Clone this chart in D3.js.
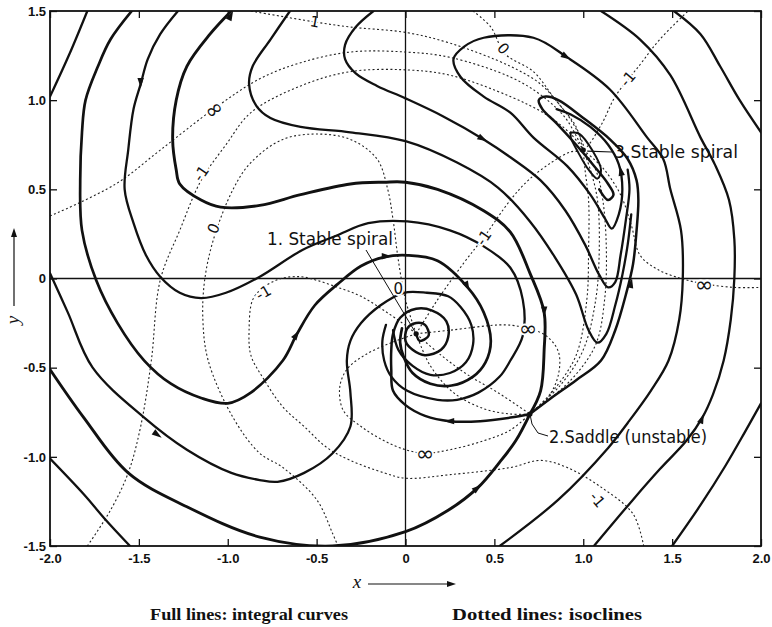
<!DOCTYPE html>
<html>
<head>
<meta charset="utf-8">
<script src="https://cdn.jsdelivr.net/npm/d3@7"></script>
<style>
  body { margin: 0; background: #fff; }
  text { fill: #111; }
</style>
</head>
<body>
<svg id="chart" width="772" height="627"></svg>
<script>
// ---- ticks ----
const xTickValues = [-2, -1.5, -1, -0.5, 0, 0.5, 1, 1.5, 2];
const xTickLabels = ['-2.0', '-1.5', '-1.0', '-0.5', '0', '0.5', '1.0', '1.5', '2.0'];
const yTickValues = [-1.5, -1, -0.5, 0, 0.5, 1, 1.5];
const yTickLabels = ['-1.5', '-1.0', '-0.5', '0', '0.5', '1.0', '1.5'];

// ---- singular points: stable spiral, saddle, stable spiral ----
const singularPoints = [[0.06, -0.31], [0.70, -0.76], [1.00, 0.72]];

// ---- integral curves (x, y) ----
const curveC1 = [[-2.00, 1.02], [-1.89, 1.26], [-1.79, 1.50]];
const curveC2 = [[-1.54, 1.50], [-1.66, 1.34], [-1.73, 1.19], [-1.80, 1.00], [-1.82, 0.82], [-1.83, 0.55], [-1.82, 0.27], [-1.74, -0.01], [-1.62, -0.25], [-1.47, -0.46], [-1.32, -0.59], [-1.15, -0.67], [-1.00, -0.70], [-0.87, -0.64], [-0.69, -0.46], [-0.61, -0.31], [-0.51, -0.15], [-0.38, -0.03], [-0.25, 0.07], [-0.12, 0.12], [0.01, 0.13], [0.18, 0.10], [0.35, -0.05], [0.44, -0.19], [0.48, -0.35], [0.45, -0.47], [0.38, -0.55], [0.26, -0.60], [0.14, -0.59], [0.04, -0.53], [-0.01, -0.44], [-0.03, -0.36], [-0.02, -0.28]];
const curveC3 = [[-1.28, 1.50], [-1.38, 1.37], [-1.45, 1.23], [-1.49, 1.09], [-1.53, 0.95], [-1.56, 0.72], [-1.58, 0.50], [-1.53, 0.31], [-1.46, 0.13], [-1.38, 0.01], [-1.27, -0.08], [-1.15, -0.11], [-1.01, -0.08], [-0.82, 0.01], [-0.58, 0.16], [-0.39, 0.24], [-0.21, 0.31], [0.01, 0.32], [0.25, 0.27], [0.44, 0.18], [0.59, 0.06], [0.66, -0.12], [0.66, -0.32], [0.59, -0.46], [0.53, -0.55], [0.41, -0.64], [0.29, -0.68], [0.18, -0.68], [0.01, -0.63], [-0.08, -0.55], [-0.12, -0.46], [-0.13, -0.35], [-0.11, -0.26]];
const curveLeft = [[-2.00, 0.03], [-1.90, -0.19], [-1.76, -0.50], [-1.47, -0.78], [-1.23, -0.96], [-0.98, -1.09], [-0.82, -1.13], [-0.72, -1.14], [-0.57, -1.09], [-0.41, -0.98], [-0.31, -0.83], [-0.31, -0.64], [-0.33, -0.46], [-0.31, -0.35], [-0.25, -0.25], [-0.14, -0.15], [-0.01, -0.08], [0.12, -0.08], [0.24, -0.10], [0.31, -0.16], [0.37, -0.26], [0.38, -0.37], [0.34, -0.47], [0.25, -0.53], [0.14, -0.54], [0.04, -0.49], [-0.04, -0.40], [-0.07, -0.29]];
const curveBottomLeft = [[-2.00, -1.01], [-1.81, -1.21], [-1.69, -1.35], [-1.55, -1.50]];
const sepTop = [[-0.98, 1.50], [-1.10, 1.37], [-1.23, 1.19], [-1.29, 1.00], [-1.31, 0.78], [-1.29, 0.61], [-1.27, 0.53], [-1.15, 0.44], [-1.04, 0.40], [-0.82, 0.41], [-0.59, 0.47], [-0.31, 0.53], [-0.12, 0.54], [0.00, 0.54], [0.18, 0.50], [0.44, 0.38], [0.59, 0.26], [0.70, 0.03], [0.78, -0.19], [0.78, -0.40], [0.76, -0.63], [0.70, -0.76]];
const sepBottom = [[-2.00, -0.51], [-1.81, -0.78], [-1.56, -1.09], [-1.23, -1.28], [-0.82, -1.45], [-0.41, -1.50], [0.00, -1.42], [0.24, -1.30], [0.41, -1.17], [0.53, -1.03], [0.62, -0.91], [0.70, -0.76]];
const sepToP1 = [[0.70, -0.76], [0.59, -0.78], [0.42, -0.80], [0.25, -0.80], [0.11, -0.77], [0.00, -0.71], [-0.07, -0.63], [-0.08, -0.51], [-0.08, -0.40], [-0.07, -0.31], [-0.03, -0.22], [0.06, -0.17], [0.15, -0.18], [0.23, -0.24], [0.24, -0.33], [0.20, -0.40], [0.11, -0.43], [0.04, -0.40], [0.00, -0.35], [0.01, -0.28], [0.06, -0.25], [0.11, -0.26], [0.13, -0.32], [0.08, -0.35], [0.06, -0.31]];
const sepToP3 = [[0.70, -0.76], [0.82, -0.67], [0.96, -0.57], [1.10, -0.46], [1.18, -0.29], [1.24, -0.09], [1.28, 0.08], [1.30, 0.27], [1.31, 0.44], [1.30, 0.55], [1.25, 0.67], [1.15, 0.78], [1.00, 0.90], [0.86, 1.00], [0.79, 1.02], [0.75, 1.00], [0.77, 0.95], [0.85, 0.87], [0.96, 0.75], [1.07, 0.62], [1.14, 0.53], [1.17, 0.47], [1.14, 0.44], [1.09, 0.50]];
const curveS1 = [[-0.18, 1.50], [-0.28, 1.41], [-0.34, 1.31], [-0.34, 1.23], [-0.28, 1.15], [-0.16, 1.08], [0.00, 1.01], [0.21, 0.91], [0.44, 0.78], [0.59, 0.68], [0.76, 0.55], [0.90, 0.38], [1.01, 0.19], [1.09, 0.02], [1.14, -0.05], [1.18, -0.02], [1.21, 0.13], [1.24, 0.33], [1.26, 0.50], [1.25, 0.61]];
const curveS2 = [[-0.65, 1.50], [-0.76, 1.34], [-0.86, 1.19], [-0.88, 1.09], [-0.84, 0.97], [-0.76, 0.90], [-0.59, 0.85], [-0.31, 0.82], [0.00, 0.77], [0.29, 0.65], [0.52, 0.51], [0.70, 0.32], [0.84, 0.12], [0.96, -0.09], [1.03, -0.29], [1.08, -0.36], [1.13, -0.31], [1.18, -0.15], [1.22, 0.02], [1.25, 0.19], [1.27, 0.36]];
const curveP3Loop = [[0.93, 0.82], [0.98, 0.81], [1.05, 0.72], [1.10, 0.61], [1.08, 0.56], [1.03, 0.61], [0.97, 0.71], [0.93, 0.79], [0.93, 0.82]];
const curveR0 = [[1.51, 1.50], [1.66, 1.37], [1.77, 1.19], [1.88, 1.00], [2.00, 0.82]];
const curveR1 = [[2.00, -0.70], [1.91, -0.86], [1.80, -1.05], [1.66, -1.27], [1.50, -1.50]];
const curveR2 = [[1.06, -1.50], [1.28, -1.24], [1.43, -1.07], [1.58, -0.91], [1.67, -0.78], [1.73, -0.65], [1.79, -0.46], [1.83, -0.23], [1.85, 0.00], [1.85, 0.22], [1.82, 0.44], [1.74, 0.64], [1.66, 0.79], [1.49, 1.14], [1.32, 1.34], [1.10, 1.50]];
const curveR3 = [[0.53, -1.50], [0.86, -1.24], [1.14, -0.95], [1.25, -0.81], [1.38, -0.63], [1.48, -0.46], [1.54, -0.23], [1.56, 0.00], [1.55, 0.27], [1.49, 0.50], [1.45, 0.67], [1.36, 0.79], [1.15, 1.06], [0.91, 1.24], [0.72, 1.35], [0.44, 1.35], [0.33, 1.30], [0.27, 1.23], [0.31, 1.13], [0.44, 1.02], [0.59, 0.93], [0.72, 0.79], [0.91, 0.63], [1.04, 0.47], [1.12, 0.34], [1.16, 0.28], [1.20, 0.36], [1.22, 0.50], [1.20, 0.64], [1.14, 0.75], [1.04, 0.85], [0.93, 0.92], [0.85, 0.95]];

// ---- isoclines (x, y) ----
const isoOneTop = [[-0.87, 1.50], [-0.52, 1.44], [-0.31, 1.41], [0.00, 1.38], [0.25, 1.32], [0.59, 1.19], [0.76, 1.09], [0.87, 0.97], [0.96, 0.85], [1.00, 0.72]];
const isoZeroTop = [[0.38, 1.50], [0.48, 1.41], [0.56, 1.26], [0.72, 1.16], [0.83, 1.02], [0.93, 0.89], [1.00, 0.75], [1.00, 0.72]];
const isoInfTop = [[-2.00, 0.35], [-1.63, 0.53], [-1.38, 0.72], [-1.08, 0.95], [-0.82, 1.12], [-0.59, 1.21], [-0.31, 1.27], [0.00, 1.27], [0.25, 1.24], [0.59, 1.13], [0.76, 1.03], [0.90, 0.90], [1.00, 0.72]];
const isoMinusOneLeft = [[-1.79, -1.50], [-1.66, -1.30], [-1.56, -1.09], [-1.49, -0.83], [-1.43, -0.46], [-1.38, -0.01], [-1.27, 0.27], [-1.15, 0.55], [-1.01, 0.75], [-0.87, 0.93], [-0.59, 1.08], [-0.31, 1.16], [0.00, 1.17], [0.25, 1.14], [0.59, 1.02], [0.79, 0.92], [0.93, 0.81], [1.00, 0.72]];
const isoZeroLeft = [[0.06, -0.31], [0.00, -0.12], [-0.04, 0.10], [-0.07, 0.33], [-0.10, 0.50], [-0.16, 0.67], [-0.31, 0.78], [-0.50, 0.81], [-0.69, 0.78], [-0.87, 0.65], [-0.97, 0.50], [-1.08, 0.22], [-1.13, -0.01], [-1.14, -0.23], [-1.11, -0.46], [-0.97, -0.78], [-0.82, -0.98], [-0.69, -1.06], [-0.50, -1.24], [-0.41, -1.43], [-0.38, -1.50]];
const isoMinusOneLoop = [[0.06, -0.31], [0.01, -0.27], [-0.12, -0.18], [-0.25, -0.10], [-0.38, -0.05], [-0.50, -0.01], [-0.59, 0.01], [-0.70, 0.00], [-0.80, -0.05], [-0.86, -0.12], [-0.88, -0.29], [-0.87, -0.43], [-0.80, -0.56], [-0.69, -0.72], [-0.57, -0.83], [-0.44, -0.95], [-0.31, -1.02], [-0.12, -1.09], [0.00, -1.12], [0.25, -1.10], [0.59, -1.06], [0.76, -1.02], [0.91, -1.06], [1.10, -1.17], [1.28, -1.32], [1.34, -1.50]];
const isoInfLow = [[0.06, -0.31], [-0.08, -0.36], [-0.23, -0.43], [-0.33, -0.51], [-0.37, -0.61], [-0.35, -0.74], [-0.25, -0.83], [-0.12, -0.91], [0.00, -0.96], [0.11, -0.98], [0.25, -0.96], [0.44, -0.91], [0.59, -0.85], [0.70, -0.76]];
const isoInfMid = [[0.06, -0.31], [0.25, -0.29], [0.56, -0.26], [0.69, -0.28], [0.79, -0.32], [0.86, -0.41], [0.86, -0.54], [0.80, -0.67], [0.70, -0.76]];
const isoMinusOneRight = [[0.06, -0.31], [0.18, -0.12], [0.33, 0.09], [0.44, 0.23], [0.59, 0.44], [0.69, 0.55], [0.82, 0.65], [0.93, 0.71], [1.00, 0.72], [1.10, 0.86], [1.18, 1.02], [1.32, 1.20], [1.43, 1.34], [1.59, 1.50]];
const isoInfRight = [[1.00, 0.72], [1.11, 0.62], [1.21, 0.47], [1.27, 0.30], [1.32, 0.13], [1.42, 0.05], [1.55, 0.00], [1.68, -0.03], [1.85, -0.05], [2.00, -0.05]];
const isoBundleA = [[0.70, -0.76], [0.87, -0.60], [1.00, -0.40], [1.07, -0.12], [1.09, 0.16], [1.08, 0.44], [1.04, 0.61], [1.00, 0.72]];
const isoBundleB = [[0.70, -0.76], [0.93, -0.57], [1.07, -0.37], [1.12, -0.12], [1.13, 0.16], [1.11, 0.44], [1.07, 0.61], [1.00, 0.72]];
const isoBundleC = [[0.70, -0.76], [0.83, -0.63], [0.96, -0.43], [1.02, -0.12], [1.03, 0.16], [1.03, 0.44], [1.01, 0.61], [1.00, 0.72]];
const isoSaddleA = [[0.06, -0.31], [0.14, -0.49], [0.27, -0.64], [0.44, -0.73], [0.59, -0.76], [0.70, -0.76]];
const isoSaddleB = [[0.06, -0.31], [0.20, -0.43], [0.35, -0.54], [0.52, -0.64], [0.70, -0.76]];

// ---- isocline labels: x, y, text, rotation ----
const isoLabels = [
  [-0.51, 1.44, '1', 10], [0.55, 1.29, '0', 50], [1.25, 1.12, '-1', -50],
  [-1.08, 0.95, '∞', -35], [-1.15, 0.59, '-1', -55], [-1.08, 0.28, '0', -65],
  [-0.80, -0.08, '-1', -30], [-0.04, -0.06, '0', 0], [0.44, 0.23, '-1', -55],
  [0.69, -0.28, '∞', 0], [1.68, -0.03, '∞', 0], [0.11, -0.98, '∞', 0],
  [1.08, -1.24, '-1', 50]
];

// ---- arrow heads: x, y, direction dx, dy ----
const arrowHeads = [
  [-1.49, 1.09, 0, -1], [0.44, 0.78, 1, -0.55], [0.91, 1.24, 1, -0.6],
  [-0.61, -0.31, 1, 1.5], [-0.10, 0.125, 1, 0], [0.35, -0.05, 0.5, -1],
  [0.78, -0.19, 0, -1], [0.24, -0.80, -1, 0], [0.41, -1.17, 1, 0.8],
  [1.27, -0.02, 0.2, 1], [1.21, 0.61, -0.2, 1], [1.67, -0.78, 0.4, 1],
  [-1.39, -0.88, 1, -0.7], [-0.98, 1.48, 0.5, 1]
];

const integralCurves = [
  { pts: curveC1, w: 2.3 }, { pts: curveC2, w: 2.7 }, { pts: curveC3, w: 2.3 },
  { pts: curveLeft, w: 2.3 }, { pts: curveBottomLeft, w: 2.3 },
  { pts: sepTop, w: 2.9 }, { pts: sepBottom, w: 2.9 }, { pts: sepToP1, w: 2.5 },
  { pts: sepToP3, w: 2.5 }, { pts: curveS1, w: 2.3 }, { pts: curveS2, w: 2.3 },
  { pts: curveP3Loop, w: 2.0 }, { pts: curveR0, w: 2.3 }, { pts: curveR1, w: 2.3 },
  { pts: curveR2, w: 2.3 }, { pts: curveR3, w: 2.3 }
];
const isoclines = [isoOneTop, isoZeroTop, isoInfTop, isoMinusOneLeft, isoZeroLeft,
  isoMinusOneLoop, isoInfLow, isoInfMid, isoMinusOneRight, isoInfRight,
  isoBundleA, isoBundleB, isoBundleC, isoSaddleA, isoSaddleB];

const svg = d3.select('#chart');
const x = d3.scaleLinear().domain([-2, 2]).range([50, 761]);
const y = d3.scaleLinear().domain([-1.5, 1.5]).range([546, 11]);

svg.append('rect').attr('width', 772).attr('height', 627).attr('fill', '#fff');

svg.append('clipPath').attr('id', 'plotClip')
   .append('rect').attr('x', 50).attr('y', 11).attr('width', 711).attr('height', 535);

const plot = svg.append('g').attr('clip-path', 'url(#plotClip)');

// coordinate axes through the origin
plot.append('line').attr('x1', x(-2)).attr('x2', x(2)).attr('y1', y(0)).attr('y2', y(0))
    .attr('stroke', '#111').attr('stroke-width', 1.3);
plot.append('line').attr('x1', x(0)).attr('x2', x(0)).attr('y1', y(-1.5)).attr('y2', y(1.5))
    .attr('stroke', '#111').attr('stroke-width', 1.3);

const line = d3.line()
               .x(function(d) { return x(d[0]); })
               .y(function(d) { return y(d[1]); })
               .curve(d3.curveCatmullRom.alpha(0.5));

plot.selectAll('path.iso')
    .data(isoclines)
    .enter()
    .append('path')
    .attr('class', 'iso')
    .attr('d', line)
    .attr('fill', 'none')
    .attr('stroke', '#222')
    .attr('stroke-width', 1.1)
    .attr('stroke-dasharray', '2,2.4');

plot.selectAll('path.curve')
    .data(integralCurves)
    .enter()
    .append('path')
    .attr('class', 'curve')
    .attr('d', function(d) { return line(d.pts); })
    .attr('fill', 'none')
    .attr('stroke', '#111')
    .attr('stroke-width', function(d) { return d.w; })
    .attr('stroke-linejoin', 'round')
    .attr('stroke-linecap', 'round');

plot.selectAll('path.arrow')
    .data(arrowHeads)
    .enter()
    .append('path')
    .attr('class', 'arrow')
    .attr('d', 'M4,0 L-6,-3.2 L-6,3.2 Z')
    .attr('fill', '#111')
    .attr('transform', function(d) {
      const a = Math.atan2(-d[3], d[2]) * 180 / Math.PI;
      return `translate(${x(d[0])},${y(d[1])}) rotate(${a})`;
    });

plot.selectAll('text.iso-label')
    .data(isoLabels)
    .enter()
    .append('text')
    .attr('class', 'iso-label')
    .attr('transform', function(d) { return `translate(${x(d[0])},${y(d[1])}) rotate(${d[3]})`; })
    .attr('text-anchor', 'middle')
    .attr('dy', '0.35em')
    .style('font-family', 'DejaVu Sans, sans-serif')
    .style('font-size', function(d) { return d[2] === '∞' ? '22px' : '15px'; })
    .style('paint-order', 'stroke')
    .style('stroke', '#fff')
    .style('stroke-width', 4)
    .text(function(d) { return d[2]; });

plot.selectAll('circle.sp')
    .data(singularPoints)
    .enter()
    .append('circle')
    .attr('class', 'sp')
    .attr('cx', function(d) { return x(d[0]); })
    .attr('cy', function(d) { return y(d[1]); })
    .attr('r', 2.6)
    .attr('fill', '#111');

// frame
svg.append('rect').attr('x', 50).attr('y', 11).attr('width', 711).attr('height', 535)
   .attr('fill', 'none').attr('stroke', '#111').attr('stroke-width', 1.8);

const tickFont = function(g) {
  g.select('.domain').remove();
  g.selectAll('line').attr('stroke', '#111').attr('stroke-width', 1.3);
  g.selectAll('text').style('font-family', 'Liberation Sans, Arial, sans-serif')
   .style('font-weight', 'bold').style('font-size', '13px').attr('fill', '#111');
};

svg.append('g').attr('transform', 'translate(0,546)')
   .call(d3.axisBottom(x).tickValues(xTickValues)
           .tickFormat(function(d, i) { return xTickLabels[i]; })
           .tickSizeInner(-7).tickSizeOuter(0).tickPadding(8))
   .call(tickFont);
svg.append('g').attr('transform', 'translate(50,0)')
   .call(d3.axisLeft(y).tickValues(yTickValues)
           .tickFormat(function(d, i) { return yTickLabels[i]; })
           .tickSizeInner(-7).tickSizeOuter(0).tickPadding(4))
   .call(tickFont);
svg.append('g').attr('transform', 'translate(0,11)')
   .call(d3.axisTop(x).tickValues(xTickValues).tickFormat('').tickSizeInner(-7).tickSizeOuter(0))
   .call(tickFont);
svg.append('g').attr('transform', 'translate(761,0)')
   .call(d3.axisRight(y).tickValues(yTickValues).tickFormat('').tickSizeInner(-7).tickSizeOuter(0))
   .call(tickFont);

// axis names with arrows
const lab = svg.append('g').style('font-family', 'Liberation Serif, serif').style('font-style', 'italic');
lab.append('text').attr('transform', 'translate(19,320) rotate(-90)').attr('text-anchor', 'middle')
   .style('font-size', '19px').text('y');
lab.append('line').attr('x1', 14).attr('x2', 14).attr('y1', 306).attr('y2', 234)
   .attr('stroke', '#111').attr('stroke-width', 1.2);
lab.append('path').attr('d', 'M14,228 L11,237 L17,237 Z').attr('fill', '#111');
lab.append('text').attr('x', 357).attr('y', 588).attr('text-anchor', 'middle')
   .style('font-size', '19px').text('x');
lab.append('line').attr('x1', 368).attr('x2', 450).attr('y1', 584).attr('y2', 584)
   .attr('stroke', '#111').attr('stroke-width', 1.2);
lab.append('path').attr('d', 'M456,584 L447,581 L447,587 Z').attr('fill', '#111');

// annotations for singular points
const ann = svg.append('g').style('font-family', 'DejaVu Sans, sans-serif').style('font-size', '18px');
ann.append('text').attr('x', 267).attr('y', 245).attr('textLength', 126).attr('lengthAdjust', 'spacingAndGlyphs')
   .text('1. Stable spiral');
ann.append('line').attr('x1', 366).attr('y1', 250).attr('x2', x(singularPoints[0][0])).attr('y2', y(singularPoints[0][1]))
   .attr('stroke', '#111').attr('stroke-width', 1);
ann.append('text').attr('x', 549).attr('y', 443).attr('textLength', 158).attr('lengthAdjust', 'spacingAndGlyphs')
   .text('2.Saddle (unstable)');
ann.append('path').attr('d', `M548,436 L538,433 L532,424 L${x(singularPoints[1][0])},${y(singularPoints[1][1])}`)
   .attr('fill', 'none').attr('stroke', '#111').attr('stroke-width', 1);
ann.append('text').attr('x', 614).attr('y', 158).attr('textLength', 124).attr('lengthAdjust', 'spacingAndGlyphs')
   .text('3.Stable spiral');
ann.append('line').attr('x1', 612).attr('y1', 152).attr('x2', x(singularPoints[2][0]) + 4).attr('y2', y(singularPoints[2][1]) + 1)
   .attr('stroke', '#111').attr('stroke-width', 1.2);

// caption
const cap = svg.append('g').style('font-family', 'Liberation Serif, serif').style('font-weight', 'bold').style('font-size', '17px');
cap.append('text').attr('x', 150).attr('y', 620).attr('textLength', 198).attr('lengthAdjust', 'spacingAndGlyphs')
   .text('Full lines: integral curves');
cap.append('text').attr('x', 452).attr('y', 620).attr('textLength', 190).attr('lengthAdjust', 'spacingAndGlyphs')
   .text('Dotted lines: isoclines');
</script>
</body>
</html>
